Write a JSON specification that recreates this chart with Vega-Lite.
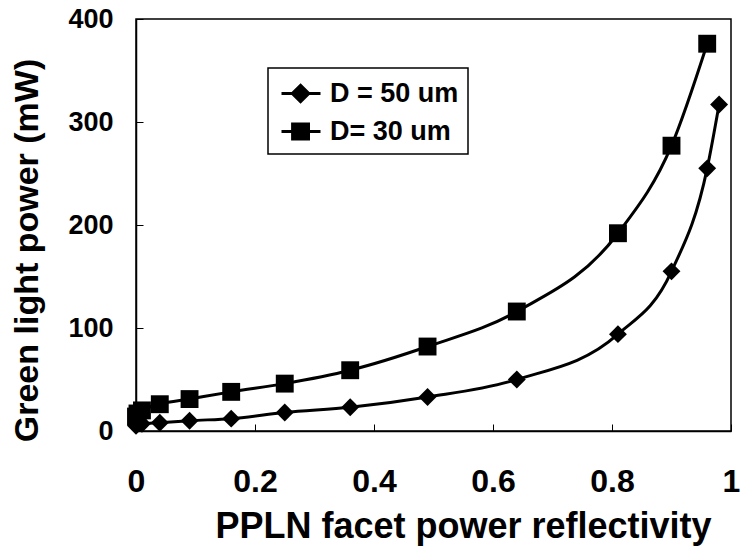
{
  "$schema": "https://vega.github.io/schema/vega-lite/v6.json",
  "autosize": "none",
  "width": 595,
  "height": 412,
  "padding": {"left": 136, "top": 19, "right": 15, "bottom": 119},
  "background": "white",
  "config": {
    "view": {"stroke": "black", "strokeWidth": 1.5},
    "font": "Liberation Sans",
    "axis": {
      "grid": false,
      "domainColor": "black",
      "domainWidth": 1.5,
      "tickColor": "black",
      "tickSize": -7,
      "labelFlush": false,
      "labelFont": "Liberation Sans",
      "labelFontWeight": "bold",
      "labelColor": "black",
      "titleFont": "Liberation Sans",
      "titleFontWeight": "bold",
      "titleColor": "black"
    }
  },
  "data": {
    "values": [
      {"r": 0, "p": 5, "series": "D = 50 um"},
      {"r": 0.01, "p": 7, "series": "D = 50 um"},
      {"r": 0.04, "p": 8, "series": "D = 50 um"},
      {"r": 0.09, "p": 10, "series": "D = 50 um"},
      {"r": 0.16, "p": 12, "series": "D = 50 um"},
      {"r": 0.25, "p": 18, "series": "D = 50 um"},
      {"r": 0.36, "p": 23, "series": "D = 50 um"},
      {"r": 0.49, "p": 33, "series": "D = 50 um"},
      {"r": 0.64, "p": 50, "series": "D = 50 um"},
      {"r": 0.81, "p": 94, "series": "D = 50 um"},
      {"r": 0.9, "p": 155, "series": "D = 50 um"},
      {"r": 0.96, "p": 255, "series": "D = 50 um"},
      {"r": 0.98, "p": 317, "series": "D = 50 um"},
      {"r": 0, "p": 14, "series": "D= 30 um"},
      {"r": 0.0025, "p": 17, "series": "D= 30 um"},
      {"r": 0.01, "p": 20, "series": "D= 30 um"},
      {"r": 0.04, "p": 26, "series": "D= 30 um"},
      {"r": 0.09, "p": 31, "series": "D= 30 um"},
      {"r": 0.16, "p": 38, "series": "D= 30 um"},
      {"r": 0.25, "p": 46, "series": "D= 30 um"},
      {"r": 0.36, "p": 59, "series": "D= 30 um"},
      {"r": 0.49, "p": 82, "series": "D= 30 um"},
      {"r": 0.64, "p": 116, "series": "D= 30 um"},
      {"r": 0.81, "p": 192, "series": "D= 30 um"},
      {"r": 0.9, "p": 277, "series": "D= 30 um"},
      {"r": 0.96, "p": 376, "series": "D= 30 um"}
    ]
  },
  "encoding": {
    "x": {
      "field": "r", "type": "quantitative",
      "scale": {"domain": [0, 1], "nice": false},
      "axis": {
        "values": [0, 0.2, 0.4, 0.6, 0.8, 1], "format": "~g",
        "labelFontSize": 32, "labelPadding": 42,
        "title": "PPLN facet power reflectivity",
        "titleFontSize": 36, "titleBaseline": "alphabetic",
        "titleX": 327, "titleY": 106, "titleAnchor": "middle"
      }
    },
    "y": {
      "field": "p", "type": "quantitative",
      "scale": {"domain": [0, 400], "nice": false},
      "axis": {
        "values": [0, 100, 200, 300, 400],
        "labelFontSize": 27, "labelPadding": 30,
        "title": "Green light power (mW)",
        "titleFontSize": 34, "titleBaseline": "alphabetic", "titleAngle": -90,
        "titleX": -99, "titleY": 231, "titleAnchor": "middle"
      }
    }
  },
  "layer": [
    {
      "mark": {"type": "line", "interpolate": "monotone", "strokeWidth": 3},
      "encoding": {
        "detail": {"field": "series"},
        "color": {
          "field": "series", "type": "nominal",
          "scale": {"range": ["black", "black"]},
          "legend": {
            "title": null,
            "orient": "none",
            "legendX": 132,
            "legendY": 49,
            "strokeColor": "black",
            "fillColor": "white",
            "padding": 9,
            "rowPadding": 7,
            "labelFont": "Liberation Sans",
            "labelFontWeight": "bold",
            "labelFontSize": 27,
            "labelColor": "black",
            "labelOffset": 20,
            "symbolSize": 900,
            "symbolStrokeWidth": 3,
            "encode": {
              "legend": {"update": {"strokeWidth": {"value": 1.5}}},
              "symbols": {
                "update": {
                  "shape": {"signal": "datum.value === 'D = 50 um' ? 'M-0.8,0H1.8M0.47,-0.55L1.02,0L0.47,0.55L-0.08,0Z' : 'M-0.8,0H1.8M-0.06,-0.5H1.0V0.5H-0.06Z'"},
                  "fill": {"value": "black"},
                  "stroke": {"value": "black"},
                  "strokeWidth": {"value": 3},
                  "opacity": {"value": 1}
                }
              }
            }
          }
        }
      }
    },
    {
      "mark": {"type": "point", "filled": true, "size": 320, "opacity": 1, "color": "black"},
      "encoding": {
        "shape": {
          "field": "series", "type": "nominal",
          "scale": {"range": ["diamond", "square"]},
          "legend": null
        }
      }
    }
  ]
}
